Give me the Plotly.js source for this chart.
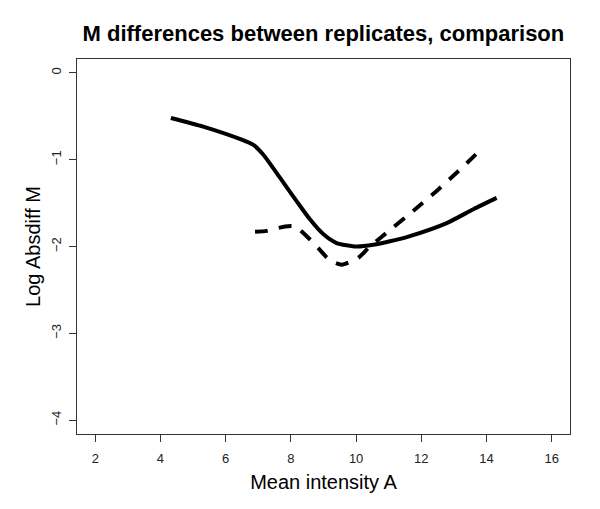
<!DOCTYPE html>
<html>
<head>
<meta charset="utf-8">
<script src="https://cdn.plot.ly/plotly-3.0.1.min.js"></script>
<style>html,body{margin:0;padding:0;background:#fff;}#chart{width:600px;height:509px;}</style>
</head>
<body>
<div id="chart"></div>
<script>
// Solid curve (first comparison)
const solidA = [4.32, 5.31, 6.49, 6.85, 7.15, 7.67, 8.18, 8.59, 9.0, 9.40, 10.02, 10.53, 11.04, 11.65, 12.78, 13.6, 14.31];
const solidM = [-0.52, -0.62, -0.77, -0.83, -0.94, -1.21, -1.48, -1.69, -1.86, -1.96, -2.00, -1.98, -1.94, -1.88, -1.73, -1.57, -1.44];
// Dashed curve (second comparison)
const dashA = [6.90, 7.26, 7.82, 8.13, 8.59, 8.84, 9.2, 9.56, 10.07, 10.37, 10.78, 11.75, 12.47, 13.14, 13.85];
const dashM = [-1.83, -1.82, -1.77, -1.77, -1.92, -2.02, -2.16, -2.21, -2.13, -2.02, -1.89, -1.59, -1.36, -1.13, -0.875];
// Tick values
const xTicks = [2, 4, 6, 8, 10, 12, 14, 16];
const yTicks = [0, -1, -2, -3, -4];

const font = "Liberation Sans, Arial, Helvetica, sans-serif";
const traces = [
  {x: solidA, y: solidM, mode: "lines", line: {color: "#000", width: 4, shape: "spline", smoothing: 0.6}, hoverinfo: "skip"},
  {x: dashA, y: dashM, mode: "lines", line: {color: "#000", width: 4, dash: "13px,11px", shape: "spline", smoothing: 0.6}, hoverinfo: "skip"}
];
const layout = {
  width: 600, height: 509,
  showlegend: false,
  paper_bgcolor: "#fff", plot_bgcolor: "#fff",
  margin: {l: 77, r: 30, t: 59, b: 75},
  font: {family: font, color: "#000"},
  title: {text: "<b>M differences between replicates, comparison</b>", font: {family: font, size: 22, color: "#000"},
          x: 0.539, xanchor: "center", y: 0.935, yanchor: "middle"},
  xaxis: {
    range: [1.44, 16.56], tickvals: xTicks, ticktext: xTicks.map(String),
    showgrid: false, zeroline: false, showline: true, mirror: true, linecolor: "#333", linewidth: 1,
    ticks: "outside", ticklen: 7, tickcolor: "#333", tickfont: {size: 13, color: "#222"}, ticklabelstandoff: 5,
    title: {text: "Mean intensity A", font: {size: 20, color: "#000"}, standoff: 10}
  },
  yaxis: {
    range: [-4.16, 0.16], tickvals: yTicks, ticktext: yTicks.map(v => v === 0 ? "0" : "\u2212" + Math.abs(v)),
    showgrid: false, zeroline: false, showline: true, mirror: true, linecolor: "#333", linewidth: 1,
    ticks: "outside", ticklen: 7, tickcolor: "#333", tickfont: {size: 13, color: "#222"}, tickangle: -90, ticklabelstandoff: 3,
    title: {text: "Log Absdiff M", font: {size: 20, color: "#000"}, standoff: 2}
  }
};
Plotly.newPlot("chart", traces, layout, {displayModeBar: false, staticPlot: true});
</script>
</body>
</html>
